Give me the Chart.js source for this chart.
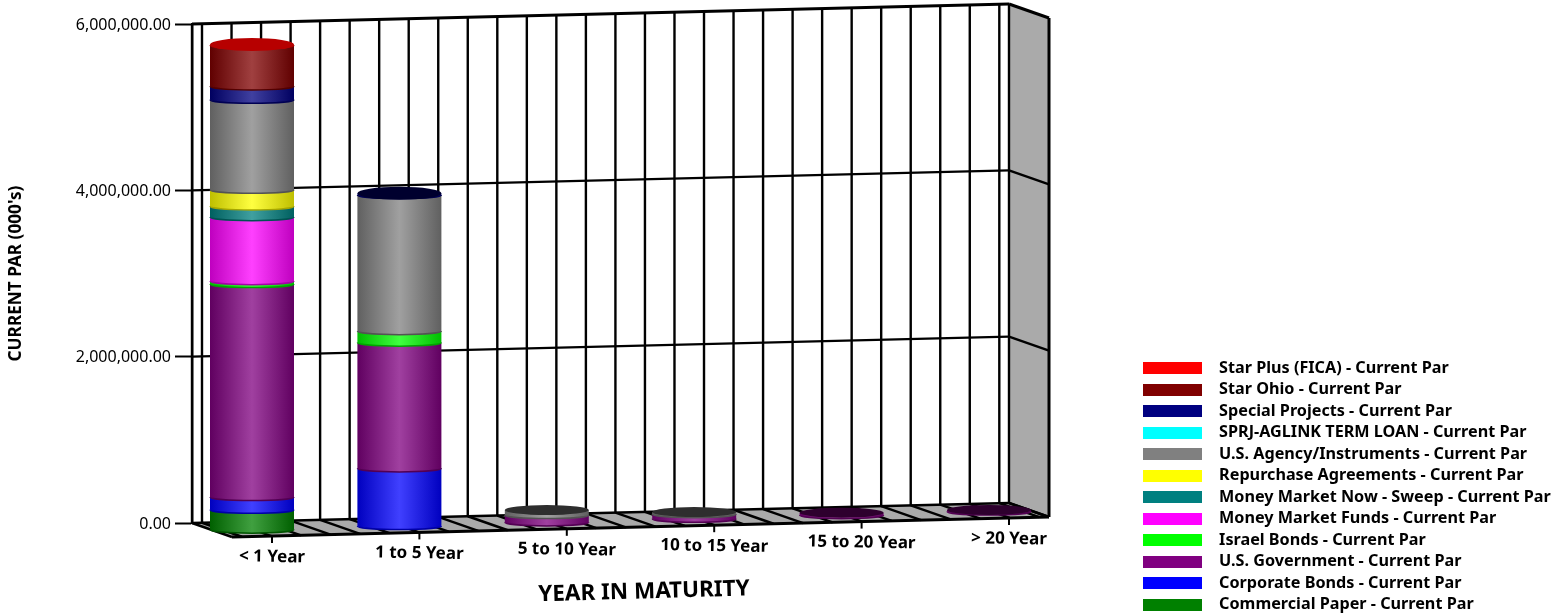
<!DOCTYPE html>
<html>
<head>
<meta charset="utf-8">
<title>Current Par by Year in Maturity</title>
<script src="https://cdn.jsdelivr.net/npm/chart.js@4/dist/chart.umd.js"></script>
<style>
    html, body { margin: 0; padding: 0; background: #fff; overflow: hidden; }
    canvas { display: block; }
</style>
</head>
<body>
<canvas id="myChart" width="1558" height="613"></canvas>
<script>
const categories = ["< 1 Year", "1 to 5 Year", "5 to 10 Year", "10 to 15 Year", "15 to 20 Year", "> 20 Year"];
const yTicks = [0, 2000000, 4000000, 6000000];

const commercialPaper = [244000, 0, 0, 0, 0, 0];
const corporateBonds = [153000, 699000, 0, 0, 0, 0];
const usGovernment = [2561000, 1512000, 94000, 62000, 35000, 24000];
const israelBonds = [36000, 138000, 0, 0, 0, 0];
const moneyMarketFunds = [769000, 0, 0, 0, 0, 0];
const moneyMarketNow = [129000, 0, 0, 0, 0, 0];
const repurchaseAgreements = [200000, 0, 0, 0, 0, 0];
const usAgency = [1082000, 1636000, 60000, 24000, 0, 0];
const sprjAglink = [0, 0, 0, 0, 0, 0];
const specialProjects = [161000, 20000, 0, 0, 0, 0];
const starOhio = [493000, 0, 0, 0, 0, 0];
const starPlus = [10000, 0, 0, 0, 0, 0];

const seriesNames = [
    "Commercial Paper - Current Par", "Corporate Bonds - Current Par", "U.S. Government - Current Par",
    "Israel Bonds - Current Par", "Money Market Funds - Current Par", "Money Market Now - Sweep - Current Par",
    "Repurchase Agreements - Current Par", "U.S. Agency/Instruments - Current Par", "SPRJ-AGLINK TERM LOAN - Current Par",
    "Special Projects - Current Par", "Star Ohio - Current Par", "Star Plus (FICA) - Current Par"
];
const seriesValues = [
    commercialPaper, corporateBonds, usGovernment, israelBonds, moneyMarketFunds, moneyMarketNow,
    repurchaseAgreements, usAgency, sprjAglink, specialProjects, starOhio, starPlus
];
const seriesColors = [
    "#008000", "#0000ff", "#800080", "#00ff00", "#ff00ff", "#008080",
    "#ffff00", "#808080", "#00ffff", "#000080", "#800000", "#ff0000"
];

const FONT = '"Noto Sans", sans-serif';
const WALL_SLOPE = 20 / 817;   // back wall leans up going right
const WALL_RIGHT = 1009;
const DEPTH_X = 40, DEPTH_Y = 14;
const BAR_DX = -13.7, TICK_DX = 6.3;   // bars and floor ticks relative to the x scale

function mix(hex, fn) {
    const n = parseInt(hex.slice(1), 16);
    const c = [n >> 16, (n >> 8) & 255, n & 255].map(fn).map(Math.round);
    return `rgb(${c[0]},${c[1]},${c[2]})`;
}
const edgeColor = hex => mix(hex, c => c * 0.75);
const midColor = hex => mix(hex, c => 64 + c * 0.75);
const rimColor = hex => mix(hex, c => c * 0.65);
const capColor = hex => mix(hex, c => c * c / 355);

function swatch(color) {
    const cv = document.createElement("canvas");
    cv.width = 68;
    cv.height = 12;
    const g = cv.getContext("2d");
    g.fillStyle = color;
    g.fillRect(0, 0, 59, 12);
    return cv;
}

const wallY = (x, y) => y - (x - 192) * WALL_SLOPE;

function drawRoom(chart) {
    const ctx = chart.ctx, ys = chart.scales.y;
    const left = chart.chartArea.left;
    const y0 = ys.getPixelForValue(0);
    const top = ys.getPixelForValue(6000000);
    const rDy = (WALL_RIGHT - left) * WALL_SLOPE;

    ctx.save();
    // right wall
    ctx.fillStyle = "#aaaaaa";
    ctx.beginPath();
    ctx.moveTo(WALL_RIGHT, top - rDy);
    ctx.lineTo(WALL_RIGHT + DEPTH_X, top - rDy + DEPTH_Y);
    ctx.lineTo(WALL_RIGHT + DEPTH_X, y0 - rDy + DEPTH_Y);
    ctx.lineTo(WALL_RIGHT, y0 - rDy);
    ctx.closePath();
    ctx.fill();
    // floor
    ctx.beginPath();
    ctx.moveTo(left, y0);
    ctx.lineTo(WALL_RIGHT, y0 - rDy);
    ctx.lineTo(WALL_RIGHT + DEPTH_X, y0 - rDy + DEPTH_Y);
    ctx.lineTo(left + DEPTH_X, y0 + DEPTH_Y);
    ctx.closePath();
    ctx.fill();

    ctx.strokeStyle = "#000";
    ctx.lineWidth = 2.4;
    const seg = (x1, y1, x2, y2) => {
        ctx.beginPath();
        ctx.moveTo(x1, y1);
        ctx.lineTo(x2, y2);
        ctx.stroke();
    };

    // vertical wall lines and floor stripes
    const lineX = [left, WALL_RIGHT];
    for (let k = 0; k < 28; k++) lineX.push(202 + k * 29.53);
    lineX.forEach(x => {
        seg(x, wallY(x, top), x, wallY(x, y0));
        seg(x, wallY(x, y0), x + DEPTH_X, wallY(x, y0) + DEPTH_Y);
    });

    // horizontal wall lines carried on to the right wall
    yTicks.forEach(v => {
        const y = ys.getPixelForValue(v);
        ctx.lineWidth = v === 6000000 ? 3 : 2.4;
        seg(left, y, WALL_RIGHT, y - rDy);
        seg(WALL_RIGHT, y - rDy, WALL_RIGHT + DEPTH_X, y - rDy + DEPTH_Y);
    });
    seg(WALL_RIGHT + DEPTH_X, top - rDy + DEPTH_Y, WALL_RIGHT + DEPTH_X, y0 - rDy + DEPTH_Y);
    seg(left + DEPTH_X, y0 + DEPTH_Y, WALL_RIGHT + DEPTH_X, y0 - rDy + DEPTH_Y);
    ctx.restore();
}

function drawSegment(ctx, bar, color, isTop) {
    const cx = bar.x + BAR_DX;
    const hw = bar.width / 2;
    const shift = 8.5 - (cx - 192) * WALL_SLOPE;
    const yTop = bar.y + shift, yBase = bar.base + shift;
    const bulge = 3.6;

    const grad = ctx.createLinearGradient(cx - hw, 0, cx + hw, 0);
    grad.addColorStop(0, edgeColor(color));
    grad.addColorStop(0.5, midColor(color));
    grad.addColorStop(1, edgeColor(color));

    ctx.fillStyle = grad;
    ctx.beginPath();
    ctx.moveTo(cx - hw, yTop);
    ctx.lineTo(cx + hw, yTop);
    ctx.lineTo(cx + hw, yBase);
    ctx.ellipse(cx, yBase, hw, bulge, 0, 0, Math.PI);
    ctx.closePath();
    ctx.fill();

    // dark rim under the segment
    ctx.strokeStyle = rimColor(color);
    ctx.lineWidth = 1.5;
    ctx.beginPath();
    ctx.ellipse(cx, yBase, hw, bulge, 0, 0, Math.PI);
    ctx.stroke();

    if (isTop) {
        ctx.fillStyle = capColor(color);
        ctx.beginPath();
        ctx.ellipse(cx, yTop, hw, yBase < 400 ? 6.5 : 5, 0, 0, Math.PI * 2);
        ctx.fill();
    }
}

function drawText(ctx, text, x, y, font, rot) {
    ctx.save();
    ctx.translate(x, y);
    ctx.rotate(rot * Math.PI / 180);
    ctx.font = font;
    ctx.fillStyle = "#000";
    ctx.textAlign = "center";
    ctx.textBaseline = "middle";
    ctx.fillText(text, 0, 0);
    ctx.restore();
}

const cylinderPlugin = {
    id: "cylinders",
    afterLayout(chart) {
        // legend sits low on the right, away from the plot
        const lg = chart.legend;
        lg.left = 1137.7;
        lg.right = 1558;
        lg.top = 354.6;
        lg.bottom = 640;
    },
    beforeDatasetsDraw(chart) {
        const ctx = chart.ctx;
        drawRoom(chart);
        const lastSeries = categories.map((c, i) => {
            let last = -1;
            seriesValues.forEach((vals, s) => { if (vals[i] > 0) last = s; });
            return last;
        });
        seriesValues.forEach((vals, s) => {
            chart.getDatasetMeta(s).data.forEach((bar, i) => {
                if (vals[i] > 0) drawSegment(ctx, bar, seriesColors[s], lastSeries[i] === s);
            });
        });
        return false;
    },
    afterDraw(chart) {
        const ctx = chart.ctx, xs = chart.scales.x;
        const y0 = chart.scales.y.getPixelForValue(0);
        categories.forEach((name, i) => {
            const x = xs.getPixelForValue(i) + TICK_DX;
            const edge = wallY(x - DEPTH_X, y0) + DEPTH_Y;
            ctx.strokeStyle = "#000";
            ctx.lineWidth = 2;
            ctx.beginPath();
            ctx.moveTo(x, edge);
            ctx.lineTo(x, edge + 7);
            ctx.stroke();
            drawText(ctx, name, x, edge + 21, `bold 17px ${FONT}`, 1);
        });
        drawText(ctx, "YEAR IN MATURITY", 644, 592, `bold 22.5px ${FONT}`, -1.6);
    }
};

new Chart("myChart", {
    type: "bar",
    data: {
        labels: categories,
        datasets: seriesValues.map((vals, s) => ({
            label: seriesNames[s],
            data: vals,
            backgroundColor: seriesColors[s],
            barThickness: 84
        }))
    },
    plugins: [cylinderPlugin],
    options: {
        responsive: false,
        animation: false,
        layout: { padding: { top: 24, bottom: 90, right: 481.6 } },
        plugins: {
            tooltip: { enabled: false },
            legend: {
                position: "chartArea",
                align: "start",
                reverse: true,
                labels: {
                    usePointStyle: true,
                    pointStyleWidth: 68,
                    padding: 5.3,
                    color: "#000",
                    font: { family: FONT, size: 16.2, weight: "bold" },
                    generateLabels: chart => chart.data.datasets.map((d, i) => ({
                        text: d.label,
                        pointStyle: swatch(d.backgroundColor),
                        fillStyle: d.backgroundColor,
                        strokeStyle: d.backgroundColor,
                        lineWidth: 0,
                        fontColor: "#000",
                        hidden: false,
                        datasetIndex: i
                    }))
                }
            }
        },
        scales: {
            x: { stacked: true, display: false },
            y: {
                stacked: true,
                min: 0,
                max: 6000000,
                afterFit: s => { s.width = 192; },
                afterBuildTicks: s => { s.ticks = yTicks.map(v => ({ value: v })); },
                ticks: {
                    color: "#000",
                    padding: 4,
                    labelOffset: 1,
                    font: { family: FONT, size: 16 },
                    callback: v => v.toLocaleString("en-US", { minimumFractionDigits: 2, maximumFractionDigits: 2 })
                },
                grid: { drawOnChartArea: false, tickLength: 17, tickWidth: 2, tickColor: "#000" },
                border: { color: "#000", width: 2.4 },
                title: {
                    display: true,
                    text: "CURRENT PAR (000's)",
                    color: "#000",
                    padding: { top: 6, bottom: 0 },
                    font: { family: FONT, size: 17.2, weight: "bold" }
                }
            }
        }
    }
});
</script>
</body>
</html>
